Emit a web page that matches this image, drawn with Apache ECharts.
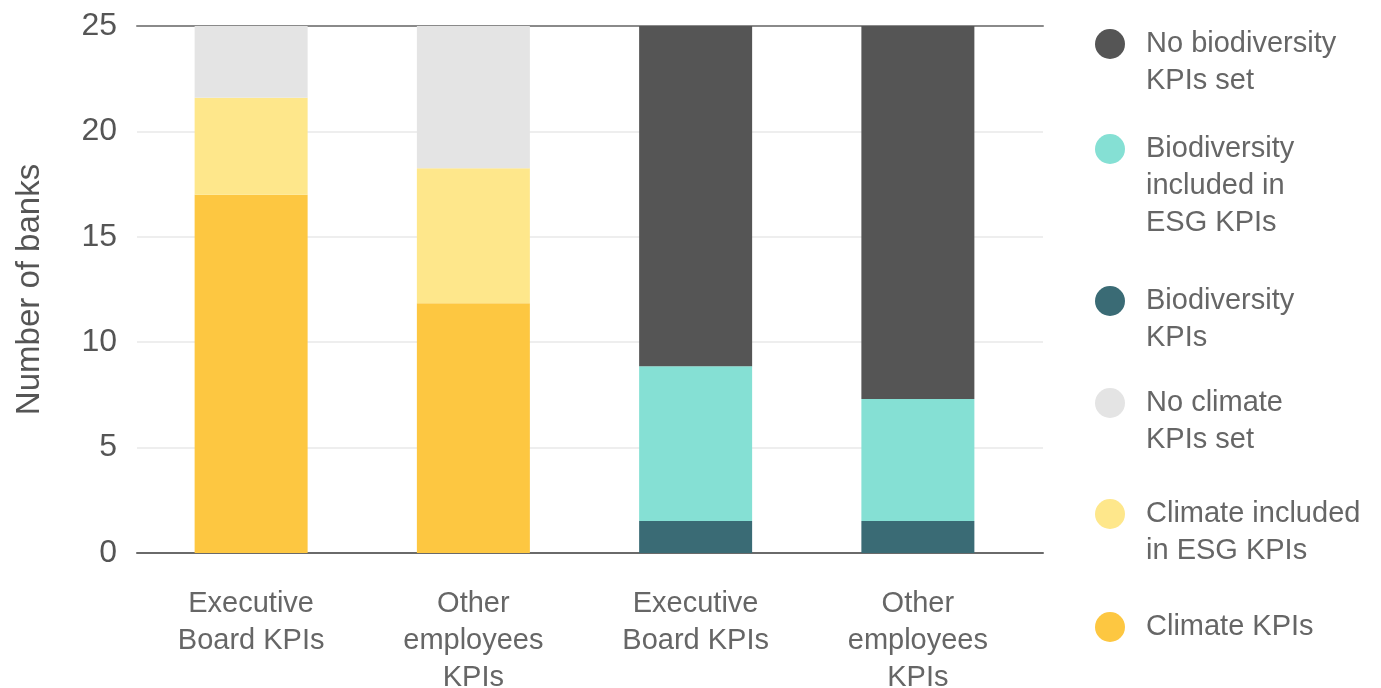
<!DOCTYPE html>
<html>
<head>
<meta charset="utf-8">
<script src="https://cdn.jsdelivr.net/npm/echarts@6/dist/echarts.min.js"></script>
<style>
html,body{margin:0;padding:0;background:#fff;}
#chart{width:1381px;height:688px;}
</style>
</head>
<body>
<div id="chart"></div>
<script>
const categories = ['Executive\nBoard KPIs', 'Other\nemployees\nKPIs', 'Executive\nBoard KPIs', 'Other\nemployees\nKPIs'];
const yTicks = [0, 5, 10, 15, 20, 25];
const climateKPIs = [17, 11.85, null, null];
const climateIncluded = [4.6, 6.4, null, null];
const noClimate = [3.4, 6.75, null, null];
const bioKPIs = [null, null, 1.52, 1.52];
const bioIncluded = [null, null, 7.34, 5.78];
const noBio = [null, null, 16.14, 17.7];

const seriesDefs = [
  {name: 'Climate KPIs', data: climateKPIs, color: '#FDC741'},
  {name: 'Climate included\nin ESG KPIs', data: climateIncluded, color: '#FEE78B'},
  {name: 'No climate\nKPIs set', data: noClimate, color: '#E4E4E4'},
  {name: 'Biodiversity\nKPIs', data: bioKPIs, color: '#3A6B75'},
  {name: 'Biodiversity\nincluded in\nESG KPIs', data: bioIncluded, color: '#85E0D4'},
  {name: 'No biodiversity\nKPIs set', data: noBio, color: '#555555'}
];

const legendOrder = [
  {name: 'No biodiversity\nKPIs set', lines: 2, center: 44},
  {name: 'Biodiversity\nincluded in\nESG KPIs', lines: 3, center: 149},
  {name: 'Biodiversity\nKPIs', lines: 2, center: 301},
  {name: 'No climate\nKPIs set', lines: 2, center: 403},
  {name: 'Climate included\nin ESG KPIs', lines: 2, center: 514},
  {name: 'Climate KPIs', lines: 1, center: 627}
];

const FONT = 'Liberation Sans';
const LH = 37;

const legends = legendOrder.map(function (l) {
  const H = (2 * l.lines - 1) * LH;
  const rectTop = Math.min(0, 15 - H / 2);
  const pad = new Array(l.lines).join('\n');
  return {
    data: [l.name],
    orient: 'vertical',
    left: 1095,
    top: l.center - 15 + rectTop,
    padding: 0,
    itemWidth: 30,
    itemHeight: 30,
    icon: 'circle',
    selectedMode: false,
    formatter: function (name) { return pad + name; },
    textStyle: {
      fontFamily: FONT,
      fontSize: 29,
      lineHeight: LH,
      color: '#666666',
      padding: [0, 0, 0, 16]
    }
  };
});

const chart = echarts.init(document.getElementById('chart'));
chart.setOption({
  animation: false,
  backgroundColor: '#ffffff',
  legend: legends,
  grid: [
    {left: 137, right: 1381 - 1043, top: 26, bottom: 688 - 553, containLabel: false, outerBoundsMode: 'none'},
    {left: 140, right: 1381 - 1029, top: 26, bottom: 688 - 553, containLabel: false, outerBoundsMode: 'none'}
  ],
  xAxis: [
    {gridIndex: 0, type: 'value', min: 0, max: 1, position: 'bottom',
      axisLine: {show: true, onZero: false, lineStyle: {color: '#6a6a6a', width: 2}},
      axisTick: {show: false}, axisLabel: {show: false}, splitLine: {show: false}},
    {gridIndex: 0, type: 'value', min: 0, max: 1, position: 'top',
      axisLine: {show: true, onZero: false, lineStyle: {color: '#8a8a8a', width: 2}},
      axisTick: {show: false}, axisLabel: {show: false}, splitLine: {show: false}},
    {gridIndex: 1, type: 'category', data: categories, position: 'bottom',
      axisLine: {show: false}, axisTick: {show: false},
      axisLabel: {fontFamily: FONT, fontSize: 29, lineHeight: LH, color: '#666666', margin: 32, interval: 0}}
  ],
  yAxis: [
    {gridIndex: 0, type: 'value', min: 0, max: 25, interval: 5,
      name: 'Number of banks', nameLocation: 'middle', nameGap: 91, nameRotate: 90,
      nameTextStyle: {fontFamily: FONT, fontSize: 33, color: '#555555'},
      axisLine: {show: false}, axisTick: {show: false},
      axisLabel: {fontFamily: FONT, fontSize: 32, color: '#555555', margin: 20,
        formatter: function (v) { return yTicks.indexOf(v) >= 0 ? String(v) : ''; }},
      splitLine: {show: true, lineStyle: {color: '#e8e8e8', width: 1.5}}},
    {gridIndex: 1, type: 'value', min: 0, max: 25, interval: 5, show: false,
      splitLine: {show: false}}
  ],
  series: seriesDefs.map(function (s) {
    return {
      name: s.name, type: 'bar', stack: 'total', xAxisIndex: 2, yAxisIndex: 1,
      data: s.data, barWidth: 113, itemStyle: {color: s.color},
      emphasis: {disabled: true}
    };
  })
});
</script>
</body>
</html>
